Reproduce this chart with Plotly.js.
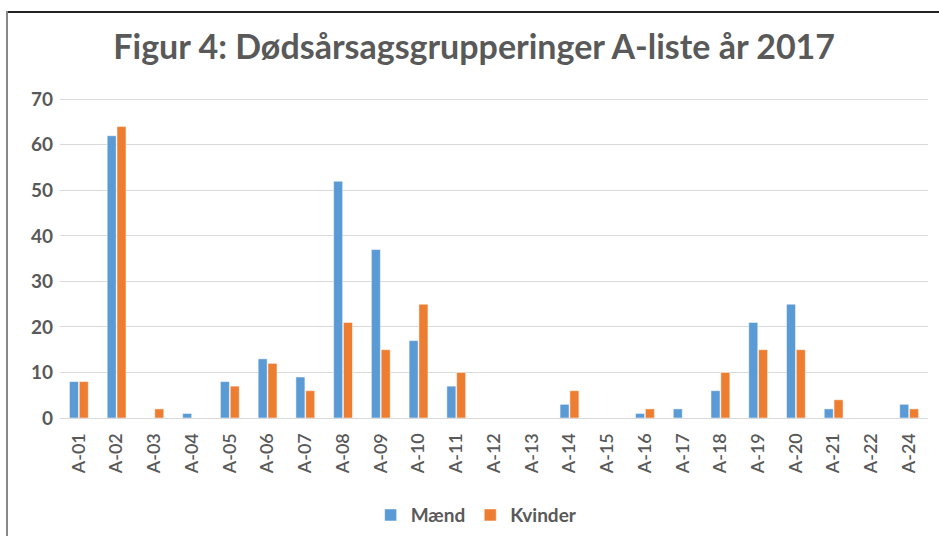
<!DOCTYPE html>
<html>
<head>
<meta charset="utf-8">
<script src="https://cdn.plot.ly/plotly-3.0.1.min.js"></script>
<style>
html,body{margin:0;padding:0;background:#fff;}
#wrap{position:relative;width:939px;height:536px;overflow:hidden;}
#chart{position:absolute;left:0;top:0;width:939px;height:536px;}
#topline{position:absolute;left:6px;top:11px;width:933px;height:2px;background:#222;}
#leftline{position:absolute;left:6px;top:11px;width:2px;height:525px;background:#888;}
</style>
</head>
<body>
<div id="wrap">
<div id="chart"></div>
<div id="topline"></div>
<div id="leftline"></div>
</div>
<script>
const categories = ["A-01","A-02","A-03","A-04","A-05","A-06","A-07","A-08","A-09","A-10","A-11","A-12","A-13","A-14","A-15","A-16","A-17","A-18","A-19","A-20","A-21","A-22","A-24"];
const maend   = [8, 62, 0, 1, 8, 13, 9, 52, 37, 17, 7, 0, 0, 3, 0, 1, 2, 6, 21, 25, 2, 0, 3];
const kvinder = [8, 64, 2, 0, 7, 12, 6, 21, 15, 25, 10, 0, 0, 6, 0, 2, 0, 10, 15, 15, 4, 0, 2];
const yTicks = [0, 10, 20, 30, 40, 50, 60, 70];

const fontFam = "Lato, 'Open Sans', sans-serif";
const data = [
  {type:'bar', name:'Mænd', x:categories, y:maend,
   marker:{color:'#5B9BD5', line:{color:'#ffffff', width:0.5}}},
  {type:'bar', name:'Kvinder', x:categories, y:kvinder,
   marker:{color:'#ED7D31', line:{color:'#ffffff', width:0.5}}}
];
const layout = {
  width:939, height:536,
  margin:{l:60, r:11, t:97, b:118, autoexpand:false},
  paper_bgcolor:'rgba(0,0,0,0)', plot_bgcolor:'rgba(0,0,0,0)',
  barmode:'group', bargap:0.48, bargroupgap:0.08,
  title:{text:'Figur 4: Dødsårsagsgrupperinger A-liste år 2017',
         font:{family:fontFam, size:34, color:'#595959', weight:700},
         x:0.505, xanchor:'center', y:0.912, yanchor:'middle'},
  xaxis:{type:'category', tickangle:-90, showgrid:false, showline:true, linecolor:'#D9D9D9', linewidth:1,
         ticks:'', ticklabelstandoff:7, tickfont:{family:fontFam, size:18, color:'#595959', weight:600}, automargin:false},
  yaxis:{range:[0,70.5], tickvals:yTicks, ticktext:yTicks.map(String), showgrid:true, gridcolor:'#D9D9D9', gridwidth:1,
         zeroline:true, zerolinecolor:'#D9D9D9', showline:false, ticks:'', ticklabelstandoff:6,
         tickfont:{family:fontFam, size:19, color:'#595959', weight:700}, automargin:false},
  showlegend:true,
  legend:{orientation:'h', x:0.48, xanchor:'center', yref:'container', y:0.039, yanchor:'middle',
          font:{family:fontFam, size:19, color:'#595959', weight:700}, itemwidth:30, traceorder:'normal'}
};
Plotly.newPlot('chart', data, layout, {displayModeBar:false, staticPlot:true});
</script>
</body>
</html>
